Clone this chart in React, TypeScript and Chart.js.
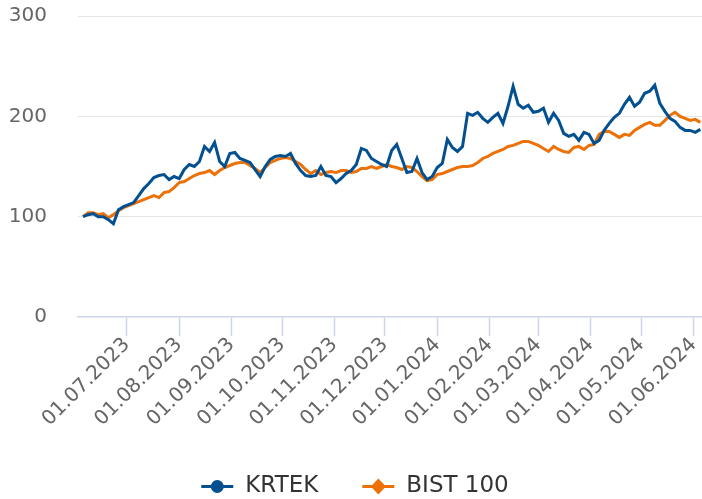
import React, { useEffect, useRef } from "react";
import { Chart, registerables } from "chart.js";

Chart.register(...registerables);

// Observation dates (every third day)
const DATES: string[] = [
  "2023-06-05", "2023-06-08", "2023-06-11", "2023-06-14", "2023-06-17", "2023-06-20", "2023-06-23", "2023-06-26", "2023-06-29",
  "2023-07-02", "2023-07-05", "2023-07-08", "2023-07-11", "2023-07-14", "2023-07-17", "2023-07-20", "2023-07-23", "2023-07-26", "2023-07-29",
  "2023-08-01", "2023-08-04", "2023-08-07", "2023-08-10", "2023-08-13", "2023-08-16", "2023-08-19", "2023-08-22", "2023-08-25", "2023-08-28", "2023-08-31",
  "2023-09-03", "2023-09-06", "2023-09-09", "2023-09-12", "2023-09-15", "2023-09-18", "2023-09-21", "2023-09-24", "2023-09-27", "2023-09-30",
  "2023-10-03", "2023-10-06", "2023-10-09", "2023-10-12", "2023-10-15", "2023-10-18", "2023-10-21", "2023-10-24", "2023-10-27", "2023-10-30",
  "2023-11-02", "2023-11-05", "2023-11-08", "2023-11-11", "2023-11-14", "2023-11-17", "2023-11-20", "2023-11-23", "2023-11-26", "2023-11-29",
  "2023-12-02", "2023-12-05", "2023-12-08", "2023-12-11", "2023-12-14", "2023-12-17", "2023-12-20", "2023-12-23", "2023-12-26", "2023-12-29",
  "2024-01-01", "2024-01-04", "2024-01-07", "2024-01-10", "2024-01-13", "2024-01-16", "2024-01-19", "2024-01-22", "2024-01-25", "2024-01-28", "2024-01-31",
  "2024-02-03", "2024-02-06", "2024-02-09", "2024-02-12", "2024-02-15", "2024-02-18", "2024-02-21", "2024-02-24", "2024-02-27",
  "2024-03-01", "2024-03-04", "2024-03-07", "2024-03-10", "2024-03-13", "2024-03-16", "2024-03-19", "2024-03-22", "2024-03-25", "2024-03-28", "2024-03-31",
  "2024-04-03", "2024-04-06", "2024-04-09", "2024-04-12", "2024-04-15", "2024-04-18", "2024-04-21", "2024-04-24", "2024-04-27", "2024-04-30",
  "2024-05-03", "2024-05-06", "2024-05-09", "2024-05-12", "2024-05-15", "2024-05-18", "2024-05-21", "2024-05-24", "2024-05-27", "2024-05-30",
  "2024-06-02", "2024-06-05",
];

const KRTEK: number[] = [
  100, 102, 103, 100, 100, 97, 93, 107, 110,
  112, 114, 121, 128, 133, 139, 141, 142, 137, 140,
  138, 147, 152, 150, 155, 170, 165, 174, 155, 150, 163,
  164, 158, 156, 154, 147, 140, 150, 157, 160, 161,
  160, 163, 153, 146, 141, 140, 141, 150, 141, 140,
  134, 138, 143, 146, 152, 168, 166, 158, 155, 152,
  150, 166, 172, 158, 144, 145, 158, 144, 137, 140,
  149, 153, 177, 169, 165, 170, 203, 201, 204, 198, 194,
  199, 203, 193, 210, 230, 212, 208, 211, 204,
  205, 208, 194, 203, 196, 183, 180, 182, 176, 184, 182,
  173, 176, 186, 193, 199, 203, 212, 219, 210, 214,
  223, 225, 231, 213, 205, 198, 195, 189, 186, 186,
  184, 187,
];

const BIST100: number[] = [
  100, 104, 104, 102, 103, 99, 102, 106, 109,
  111, 113, 115, 117, 119, 121, 119, 124, 125, 129,
  134, 135, 138, 141, 143, 144, 146, 142, 146, 149, 151,
  153, 154, 154, 151, 148, 144, 149, 154, 156, 158,
  159, 158, 155, 152, 147, 143, 146, 142, 144, 145,
  144, 146, 146, 144, 145, 148, 148, 150, 148, 150,
  152, 150, 149, 147, 150, 149, 145, 140, 136, 137,
  142, 143, 145, 147, 149, 150, 150, 151, 154, 158, 160,
  163, 165, 167, 170, 171, 173, 175, 175, 173,
  171, 168, 165, 170, 167, 165, 164, 169, 170, 167, 171,
  172, 182, 185, 185, 182, 179, 182, 181, 186, 189,
  192, 194, 191, 191, 196, 201, 204, 200, 198, 196,
  197, 194,
];

const SERIES_NAMES: string[] = ["KRTEK", "BIST 100"];
const SERIES_COLORS: string[] = ["#02508f", "#ec7108"];

const X_TICK_DATES: string[] = [
  "2023-07-01", "2023-08-01", "2023-09-01", "2023-10-01", "2023-11-01", "2023-12-01",
  "2024-01-01", "2024-02-01", "2024-03-01", "2024-04-01", "2024-05-01", "2024-06-01",
];
const X_RANGE: string[] = ["2023-06-02", "2024-06-06"];
const Y_TICKS: number[] = [0, 100, 200, 300];

const dayNum = (s: string): number => {
  const [y, m, d] = s.split("-").map(Number);
  return Date.UTC(y, m - 1, d) / 86400000;
};
const fmtDay = (n: number): string => {
  const dt = new Date(Math.round(n) * 86400000);
  const dd = String(dt.getUTCDate()).padStart(2, "0");
  const mm = String(dt.getUTCMonth() + 1).padStart(2, "0");
  return `${dd}.${mm}.${dt.getUTCFullYear()}`;
};

const FONT = '"DejaVu Sans", Verdana, sans-serif';

const legendPlugin = {
  id: "customLegend",
  afterDraw(chart: any) {
    const ctx = chart.ctx as CanvasRenderingContext2D;
    ctx.save();
    ctx.font = `23px ${FONT}`;
    ctx.textBaseline = "middle";
    ctx.textAlign = "left";
    const symW = 32;
    const gapT = 12;
    const gapItem = 44;
    const widths = SERIES_NAMES.map((n) => ctx.measureText(n).width);
    const total = widths.reduce((a, w) => a + symW + gapT + w, 0) + gapItem * (SERIES_NAMES.length - 1);
    let x = (chart.width - total) / 2 + 4;
    const y = 486;
    SERIES_NAMES.forEach((name, i) => {
      const color = SERIES_COLORS[i];
      ctx.strokeStyle = color;
      ctx.fillStyle = color;
      ctx.lineWidth = 3;
      ctx.beginPath();
      ctx.moveTo(x, y + 0.5);
      ctx.lineTo(x + symW, y + 0.5);
      ctx.stroke();
      const cx = x + symW / 2;
      ctx.beginPath();
      if (i === 0) {
        ctx.arc(cx, y + 0.5, 6.5, 0, Math.PI * 2);
      } else {
        ctx.moveTo(cx, y - 7.5);
        ctx.lineTo(cx + 7.5, y + 0.5);
        ctx.lineTo(cx, y + 8.5);
        ctx.lineTo(cx - 7.5, y + 0.5);
        ctx.closePath();
      }
      ctx.fill();
      ctx.fillStyle = "#333333";
      ctx.fillText(name, x + symW + gapT, y);
      x += symW + gapT + widths[i] + gapItem;
    });
    ctx.restore();
  },
};

export default function App() {
  const ref = useRef<HTMLCanvasElement | null>(null);

  useEffect(() => {
    document.body.style.margin = "0";
    const canvas = ref.current;
    if (!canvas) return;
    const xs = DATES.map(dayNum);
    const chart = new Chart(canvas, {
      type: "line",
      data: {
        datasets: [
          {
            label: SERIES_NAMES[0],
            data: xs.map((x, i) => ({ x, y: KRTEK[i] })),
            borderColor: SERIES_COLORS[0],
            backgroundColor: SERIES_COLORS[0],
            borderWidth: 3,
            pointRadius: 0,
            tension: 0,
          },
          {
            label: SERIES_NAMES[1],
            data: xs.map((x, i) => ({ x, y: BIST100[i] })),
            borderColor: SERIES_COLORS[1],
            backgroundColor: SERIES_COLORS[1],
            borderWidth: 3,
            pointRadius: 0,
            tension: 0,
          },
        ],
      },
      options: {
        animation: false,
        responsive: false,
        devicePixelRatio: 1,
        layout: { padding: { left: 0, right: 0, top: 16, bottom: 0 } },
        plugins: { legend: { display: false }, tooltip: { enabled: false } },
        scales: {
          x: {
            type: "linear",
            min: dayNum(X_RANGE[0]),
            max: dayNum(X_RANGE[1]),
            afterBuildTicks: (s: any) => {
              s.ticks = X_TICK_DATES.map((d) => ({ value: dayNum(d) }));
            },
            afterFit: (s: any) => {
              s.height = 182;
              s.paddingLeft = 0;
              s.paddingRight = 0;
            },
            grid: {
              drawOnChartArea: false,
              drawTicks: true,
              tickLength: 19,
              tickColor: "#ccd6eb",
              tickWidth: 1.5,
            },
            border: { display: true, color: "#ccd6eb", width: 1.5 },
            ticks: {
              autoSkip: false,
              minRotation: 45,
              maxRotation: 45,
              padding: -3,
              color: "#666666",
              font: { family: FONT, size: 20 },
              callback: (v: any) => fmtDay(Number(v)),
            },
          },
          y: {
            min: 0,
            max: 300,
            afterBuildTicks: (s: any) => {
              s.ticks = Y_TICKS.map((v) => ({ value: v }));
            },
            afterFit: (s: any) => {
              s.width = 78;
              s.paddingTop = 0;
              s.paddingBottom = 0;
            },
            grid: {
              drawTicks: false,
              color: (c: any) => (c.tick && c.tick.value === 0 ? "rgba(0,0,0,0)" : "#e6e6e6"),
              lineWidth: 1,
            },
            border: { display: false },
            ticks: {
              padding: 31,
              color: "#666666",
              font: { family: FONT, size: 20 },
            },
          },
        },
      },
      plugins: [legendPlugin],
    });
    return () => chart.destroy();
  }, []);

  return (
    <div style={{ width: 702, height: 499 }}>
      <canvas ref={ref} width={702} height={499} style={{ display: "block" }} />
    </div>
  );
}
